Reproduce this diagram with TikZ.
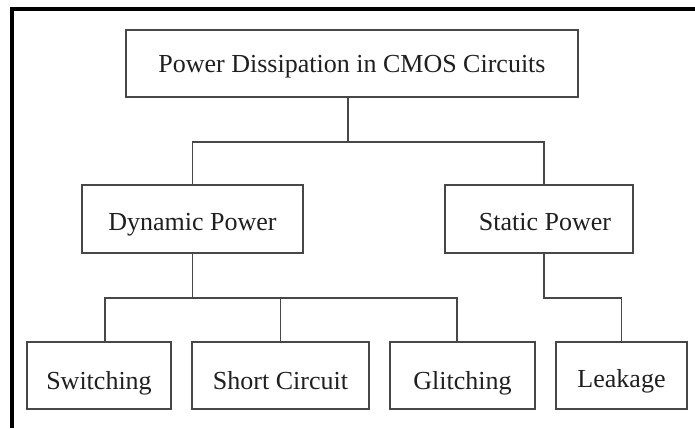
\documentclass[tikz,border=0pt]{standalone}
\usepackage{fontspec}
\setmainfont{Liberation Serif}
\begin{document}
\begin{tikzpicture}[x=1pt,y=1pt,
  box/.style={draw=black!72, line width=1.6pt, inner sep=0pt, text=black!88,
    font=\fontsize{26}{30}\selectfont, text depth=0pt, text height=22pt},
  link/.style={draw=black!72, line width=1.6pt},
  frame/.style={draw=black, line width=4pt}]
\useasboundingbox (0,0) rectangle (695,-428);
% frame (top and left only)
\coordinate (fr1) at (695,-9.3);
\coordinate (fr2) at (12,-9.3);
\coordinate (fr3) at (12,-428);
\draw[frame] (fr1) -- (fr2) -- (fr3);
% nodes
\node[box, minimum width=452pt, minimum height=67pt, text height=18pt] (top) at (352,-63.5) {Power Dissipation in CMOS Circuits};
\node[box, minimum width=221pt, minimum height=68pt] (dyn) at (192.5,-219) {Dynamic Power};
\node[box, minimum width=188pt, minimum height=68pt] (stat) at (539,-219) {\hspace*{12pt}Static Power};
\node[box, minimum width=144pt, minimum height=67pt, text height=28pt] (sw) at (99,-375.5) {Switching};
\node[box, minimum width=177pt, minimum height=67pt, text height=28pt] (sc) at (280.5,-375.5) {Short Circuit};
\node[box, minimum width=145pt, minimum height=67pt, text height=28pt] (gl) at (462.5,-375.5) {Glitching};
\node[box, minimum width=131pt, minimum height=67pt, text height=24pt] (lk) at (621.5,-375.5) {Leakage};
% connectors
\draw[link] ([xshift=-4pt]top.south) -- ++(0,-44) coordinate (j1);
\draw[link] (dyn.north) |- (j1) -| ([xshift=5pt]stat.north);
\draw[link] (dyn.south) -- ++(0,-44) coordinate (j2);
\draw[link] ([xshift=6pt]sw.north) |- (j2) -| ([xshift=-5.5pt]gl.north);
\draw[link] (sc.north) -- (sc.north |- j2);
\draw[link] ([xshift=5pt]stat.south) -- ++(0,-44) -| (lk.north);
\end{tikzpicture}
\end{document}
